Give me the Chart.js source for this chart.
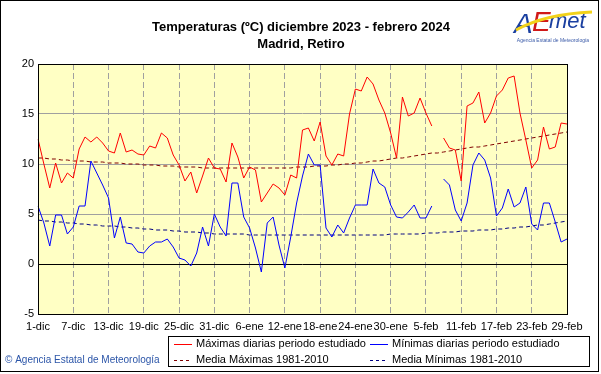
<!DOCTYPE html>
<html>
<head>
<meta charset="utf-8">
<script src="https://cdn.jsdelivr.net/npm/chart.js@4.4.1/dist/chart.umd.min.js"></script>
<style>
  html, body { margin: 0; padding: 0; background: #fff; }
  canvas { display: block; }
</style>
</head>
<body>
<canvas id="myChart" width="601" height="374"></canvas>
<script>
// meses del periodo: nombre corto y número de días
var months = [['dic', 31], ['ene', 31], ['feb', 29]];

// máximas diarias (ºC), null = sin dato
var tMax = [
    12.5, 10.0, 7.6, 10.1, 8.1, 9.1, 8.6, 11.5, 12.7, 12.2,
    12.7, 12.1, 11.3, 11.1, 13.1, 11.2, 11.4, 11.0, 10.9, 11.8,
    11.6, 13.1, 12.6, 10.9, 9.9, 8.3, 9.2, 7.1, 8.8, 10.6,
    9.6, 9.5, 8.2, 12.1, 10.7, 8.6, 9.7, 9.4, 6.2, 7.1,
    8.0, 7.6, 6.9, 8.9, 8.6, 13.4, 13.6, 12.3, 14.2, 10.8,
    9.9, 11.0, 10.8, 15.0, 17.5, 17.3, 18.7, 18.0, 16.4, 15.1,
    13.1, 10.6, 16.7, 14.8, 15.1, 16.6, 15.1, 13.8, null, 12.6,
    11.6, 11.4, 8.3, 15.8, 16.1, 17.2, 14.1, 15.1, 16.8, 17.4,
    18.6, 18.8, 15.1, 12.4, 9.6, 10.4, 13.7, 11.5, 11.7, 14.1,
    14.0
];

// mínimas diarias (ºC)
var tMin = [
    5.8, 4.1, 1.8, 4.9, 4.9, 3.0, 3.7, 5.8, 5.8, 10.3,
    9.1, 7.9, 6.6, 2.6, 4.7, 2.1, 2.0, 1.2, 1.1, 1.8,
    2.2, 2.2, 2.5, 1.7, 0.6, 0.4, -0.2, 1.1, 3.7, 1.8,
    5.0, 3.7, 2.8, 8.1, 8.1, 4.7, 3.6, 1.6, -0.8, 4.1,
    4.7, 1.9, -0.4, 2.7, 6.1, 8.8, 11.0, 9.9, 9.9, 3.6,
    2.7, 3.9, 3.1, 4.6, 5.9, 5.9, 5.9, 9.5, 8.1, 7.7,
    5.9, 4.7, 4.6, 5.2, 5.9, 4.6, 4.6, 5.8, null, 8.5,
    7.9, 5.4, 4.3, 6.1, 9.9, 11.1, 10.4, 8.6, 4.8, 5.6,
    7.5, 5.7, 6.1, 7.7, 4.0, 3.4, 6.1, 6.1, 4.2, 2.2,
    2.5
];

// media de las máximas 1981-2010
var normMax = [
    10.6, 10.6, 10.5, 10.5, 10.4, 10.4, 10.3, 10.3, 10.3, 10.2,
    10.2, 10.2, 10.1, 10.1, 10.1, 10.0, 10.0, 10.0, 9.9, 9.9,
    9.9, 9.8, 9.8, 9.8, 9.7, 9.7, 9.7, 9.7, 9.6, 9.6,
    9.6, 9.6, 9.6, 9.6, 9.6, 9.6, 9.6, 9.6, 9.6, 9.6,
    9.6, 9.6, 9.6, 9.6, 9.7, 9.7, 9.7, 9.8, 9.8, 9.8,
    9.9, 9.9, 10.0, 10.0, 10.1, 10.1, 10.2, 10.3, 10.3, 10.4,
    10.5, 10.6, 10.6, 10.7, 10.8, 10.9, 11.0, 11.1, 11.1, 11.2,
    11.3, 11.4, 11.5, 11.6, 11.7, 11.7, 11.8, 11.9, 12.0, 12.1,
    12.2, 12.3, 12.4, 12.5, 12.6, 12.7, 12.8, 12.9, 13.0, 13.1,
    13.2
];

// media de las mínimas 1981-2010
var normMin = [
    4.4, 4.3, 4.3, 4.2, 4.2, 4.1, 4.1, 4.0, 4.0, 3.9,
    3.9, 3.8, 3.8, 3.8, 3.7, 3.7, 3.6, 3.6, 3.5, 3.5,
    3.4, 3.4, 3.4, 3.3, 3.3, 3.2, 3.2, 3.2, 3.1, 3.1,
    3.0, 3.0, 3.0, 3.0, 3.0, 3.0, 2.9, 2.9, 2.9, 2.9,
    2.9, 2.9, 2.9, 2.9, 2.9, 2.9, 2.9, 2.9, 2.9, 2.9,
    2.9, 2.9, 2.9, 2.9, 2.9, 2.9, 2.9, 2.9, 2.9, 2.9,
    3.0, 3.0, 3.0, 3.0, 3.0, 3.0, 3.1, 3.1, 3.1, 3.2,
    3.2, 3.2, 3.3, 3.3, 3.3, 3.4, 3.4, 3.4, 3.5, 3.5,
    3.6, 3.6, 3.7, 3.7, 3.8, 3.9, 3.9, 4.0, 4.1, 4.2,
    4.3
];

var yTicks = [-5, 0, 5, 10, 15, 20];
var labelEvery = 6;

var legendItems = [
    ['Máximas diarias periodo estudiado', '#ff0000', []],
    ['Mínimas diarias periodo estudiado', '#0000ff', []],
    ['Media Máximas 1981-2010', '#800000', [3, 3]],
    ['Media Mínimas 1981-2010', '#000080', [3, 3]]
];

// etiquetas de días: 1-dic ... 29-feb
var days = [];
months.forEach(function(m) {
    for (var d = 1; d <= m[1]; d++) days.push(d + '-' + m[0]);
});

var FONT = '"Liberation Sans", Arial, sans-serif';

// fondo amarillo, marco, títulos, leyenda y logo
var decor = {
    id: 'decor',
    beforeDraw: function(chart) {
        var ctx = chart.ctx, a = chart.chartArea;
        ctx.save();
        ctx.fillStyle = '#fff';
        ctx.fillRect(0, 0, chart.width, chart.height);
        ctx.fillStyle = '#ffffc4';
        ctx.fillRect(a.left, a.top, a.right - a.left, a.bottom - a.top);
        ctx.restore();
    },
    afterDraw: function(chart) {
        var ctx = chart.ctx, a = chart.chartArea;
        ctx.save();
        ctx.strokeStyle = '#000';
        ctx.lineWidth = 1;
        ctx.setLineDash([]);
        ctx.strokeRect(Math.round(a.left) + 0.5, Math.round(a.top) + 0.5,
            Math.round(a.right - a.left), Math.round(a.bottom - a.top));
        ctx.strokeRect(0.5, 0.5, 598, 371);

        // títulos
        ctx.fillStyle = '#000';
        ctx.textAlign = 'center';
        ctx.textBaseline = 'middle';
        ctx.font = 'bold 13px ' + FONT;
        ctx.fillText('Temperaturas (ºC) diciembre 2023 - febrero 2024', 301, 27);
        ctx.fillText('Madrid, Retiro', 301, 44);

        // leyenda
        ctx.strokeRect(168.5, 336.5, 421, 30);
        ctx.font = '11px ' + FONT;
        ctx.textAlign = 'left';
        legendItems.forEach(function(it, i) {
            var x = i % 2 === 0 ? 174 : 370;
            var y = i < 2 ? 344 : 360;
            ctx.strokeStyle = it[1];
            ctx.setLineDash(it[2]);
            ctx.beginPath();
            ctx.moveTo(x, y + 0.5);
            ctx.lineTo(x + 18, y + 0.5);
            ctx.stroke();
            ctx.fillStyle = '#000';
            ctx.fillText(it[0], x + 22, y);
        });
        ctx.setLineDash([]);

        // copyright
        ctx.fillStyle = '#2b55a8';
        ctx.font = '10px ' + FONT;
        ctx.fillText('© Agencia Estatal de Meteorología', 5, 360);

        // logo AEMET (aproximado con texto)
        ctx.font = 'italic 28px ' + FONT;
        ctx.textBaseline = 'alphabetic';
        ctx.fillStyle = '#1a3fa0';
        ctx.fillText('A', 514, 33);
        ctx.fillStyle = '#d01818';
        ctx.fillText('E', 532, 31);
        ctx.fillStyle = '#1a3fa0';
        ctx.font = 'italic 22px ' + FONT;
        ctx.fillText('met', 549, 28);
        ctx.strokeStyle = '#f2d21a';
        ctx.lineWidth = 3;
        ctx.beginPath();
        ctx.moveTo(516, 30);
        ctx.quadraticCurveTo(545, 14, 592, 12);
        ctx.stroke();
        ctx.fillStyle = '#3a5aa8';
        ctx.font = '5px ' + FONT;
        ctx.textAlign = 'center';
        ctx.fillText('Agencia Estatal de Meteorología', 553, 42);
        ctx.restore();
    }
};

var ctx1 = document.getElementById('myChart').getContext('2d');
var myChart = new Chart(ctx1, {
    type: 'line',
    data: {
        labels: days,
        datasets: [{
            label: 'Máximas diarias periodo estudiado',
            data: tMax,
            borderColor: '#ff0000',
            borderWidth: 1
        }, {
            label: 'Mínimas diarias periodo estudiado',
            data: tMin,
            borderColor: '#0000ff',
            borderWidth: 1
        }, {
            label: 'Media Máximas 1981-2010',
            data: normMax,
            borderColor: '#800000',
            borderWidth: 1,
            borderDash: [4, 3]
        }, {
            label: 'Media Mínimas 1981-2010',
            data: normMin,
            borderColor: '#000080',
            borderWidth: 1,
            borderDash: [4, 3]
        }]
    },
    options: {
        responsive: false,
        animation: false,
        devicePixelRatio: 1,
        spanGaps: false,
        elements: {
            point: { radius: 0, hoverRadius: 0 },
            line: { tension: 0 }
        },
        layout: { padding: { top: 64, right: 34, left: 0, bottom: 0 } },
        plugins: {
            legend: { display: false },
            title: { display: false },
            tooltip: { enabled: false }
        },
        scales: {
            x: {
                type: 'category',
                offset: false,
                afterFit: function(s) { s.height = 60; },
                grid: {
                    color: '#a0a0a0',
                    drawTicks: false,
                    lineWidth: 1
                },
                border: { display: false, dash: [6, 3] },
                ticks: {
                    autoSkip: false,
                    maxRotation: 0,
                    minRotation: 0,
                    padding: 6,
                    color: '#000',
                    font: { family: FONT, size: 11 },
                    callback: function(v, i) {
                        return i % labelEvery === 0 ? days[i] : null;
                    }
                }
            },
            y: {
                min: yTicks[0],
                max: yTicks[yTicks.length - 1],
                afterFit: function(s) { s.width = 38; },
                afterBuildTicks: function(s) {
                    s.ticks = yTicks.map(function(v) { return { value: v }; });
                },
                grid: {
                    drawTicks: false,
                    color: function(c) {
                        return c.tick && c.tick.value === 0 ? '#000' : '#a0a0a0';
                    }
                },
                border: { display: false },
                ticks: {
                    padding: 4,
                    color: '#000',
                    font: { family: FONT, size: 11 }
                }
            }
        }
    },
    plugins: [decor]
});
</script>
</body>
</html>
